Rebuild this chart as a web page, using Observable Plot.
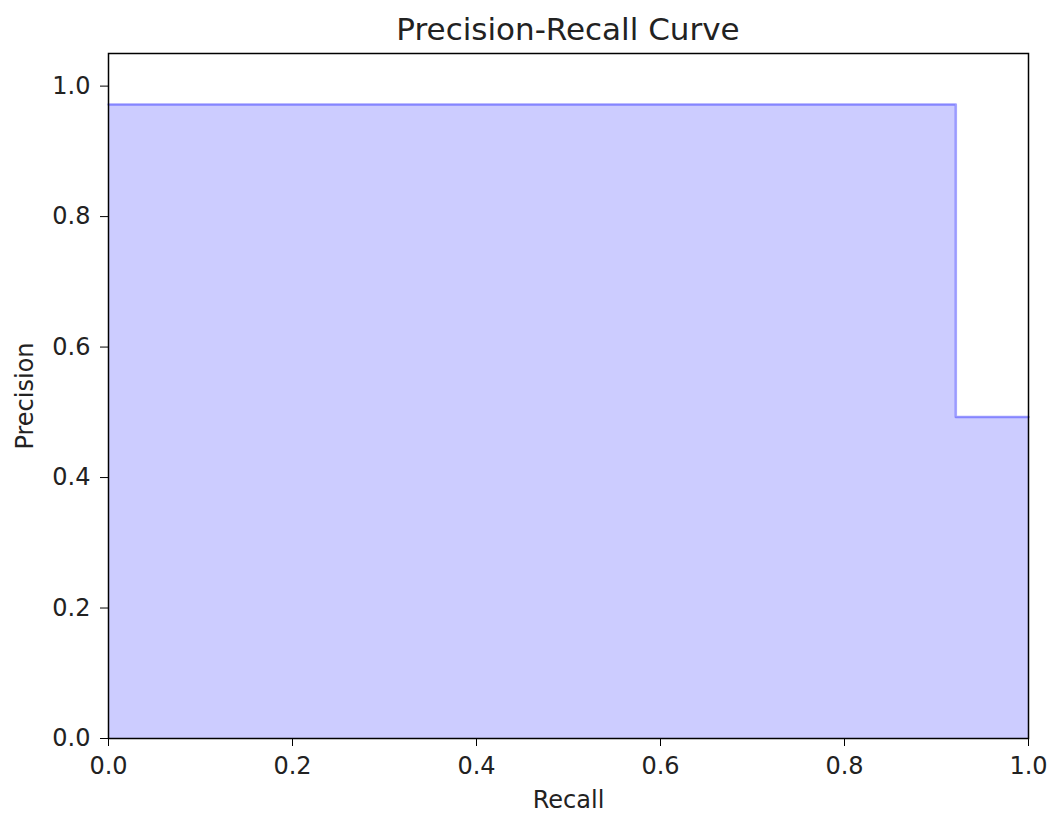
<!DOCTYPE html>
<html>
<head>
<meta charset="utf-8">
<script src="https://cdn.jsdelivr.net/npm/d3@7"></script>
<script src="https://cdn.jsdelivr.net/npm/@observablehq/plot@0.6"></script>
<style>
  body { margin: 0; background: #fff; }
  #title { width: 1058px; box-sizing: border-box; padding: 14px 30px 0 108px; height: 45px;
    text-align: center; font-family: "DejaVu Sans", sans-serif; font-size: 31px; line-height: 30px; color: #222; }
</style>
</head>
<body>
<div id="title">Precision-Recall Curve</div>
<div id="chart"></div>
<script>
const recall = [0, 0.921, 1.0];
const precision = [0.972, 0.493, 0.493];
const xTicks = [0, 0.2, 0.4, 0.6, 0.8, 1.0];
const yTicks = [0, 0.2, 0.4, 0.6, 0.8, 1.0];

const data = recall.map((r, i) => ({recall: r, precision: precision[i]}));

const chart = Plot.plot({
  width: 1058,
  height: 770,
  marginLeft: 108,
  marginRight: 30,
  marginTop: 8,
  marginBottom: 77,
  x: {domain: [0, 1]},
  y: {domain: [0, 1.05]},
  style: {fontFamily: "DejaVu Sans, sans-serif", fontSize: "24px", color: "#222", background: "#fff"},
  marks: [
    Plot.areaY(data, {x: "recall", y: "precision", curve: "step-after", fill: "#0000ff", fillOpacity: 0.2}),
    Plot.lineY(data, {x: "recall", y: "precision", curve: "step-after", stroke: "#0000ff", strokeOpacity: 0.35, strokeWidth: 2.5}),
    Plot.frame({stroke: "#000", strokeWidth: 1.5}),
    Plot.axisX({ticks: xTicks, tickFormat: d3.format(".1f"), tickSize: 8, tickPadding: 10, label: null, fontSize: 24, stroke: "#000"}),
    Plot.axisY({ticks: yTicks, tickFormat: d3.format(".1f"), tickSize: 8, tickPadding: 10, label: null, fontSize: 24, stroke: "#000"}),
    Plot.text(["Recall"], {frameAnchor: "bottom", dy: 69, fontSize: 24, fill: "#222"}),
    Plot.text(["Precision"], {frameAnchor: "left", dx: -83, rotate: -90, textAnchor: "middle", fontSize: 24, fill: "#222"})
  ]
});
document.getElementById("chart").appendChild(chart);
</script>
</body>
</html>
